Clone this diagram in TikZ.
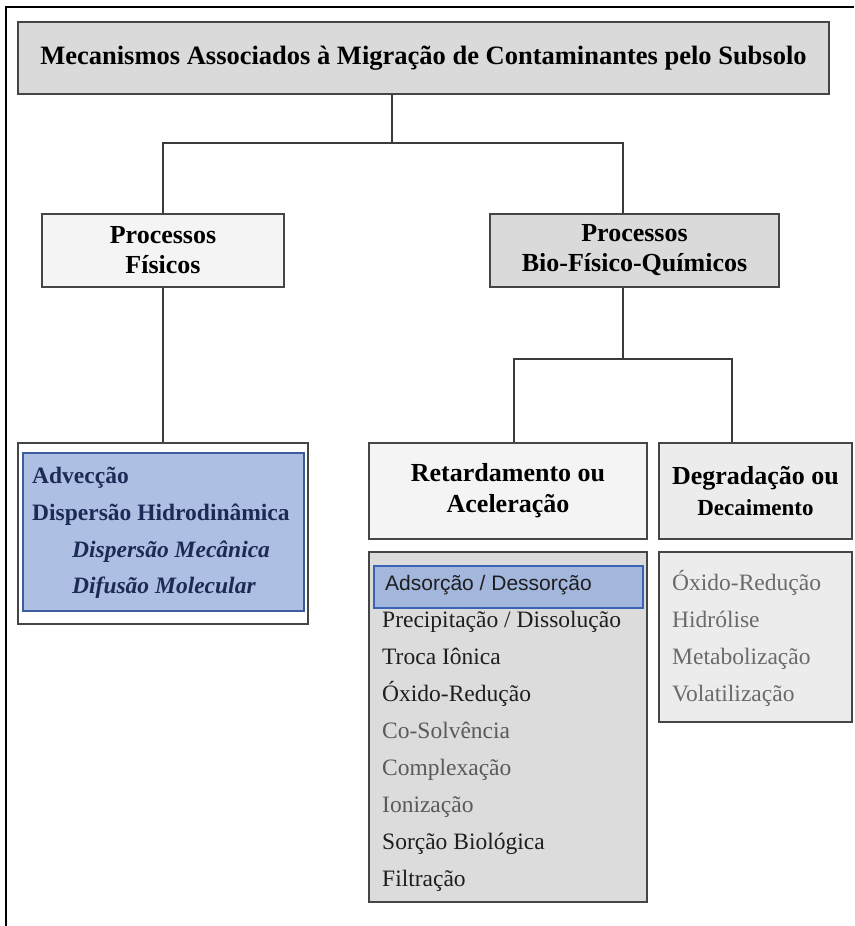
\documentclass[tikz,border=0pt]{standalone}
\usepackage{fontspec}
\setmainfont{Liberation Serif}
\newfontfamily\arialf{Liberation Sans}
\definecolor{boxline}{HTML}{454545}
\definecolor{connline}{HTML}{3A3A3A}
\definecolor{titlefill}{HTML}{DADADA}
\definecolor{lightfill}{HTML}{F4F4F4}
\definecolor{midfill}{HTML}{DCDCDC}
\definecolor{palefill}{HTML}{ECECEC}
\definecolor{bluefill}{HTML}{ADBFE3}
\definecolor{blueline}{HTML}{3D5C9E}
\definecolor{hlfill}{HTML}{A3B6DC}
\definecolor{hlline}{HTML}{3A62B5}
\definecolor{navytext}{HTML}{1C2A55}
\definecolor{darktext}{HTML}{1E1E1E}
\definecolor{graytext}{HTML}{5A5A5A}
\definecolor{lgraytext}{HTML}{6A6A6A}
\begin{document}
\begin{tikzpicture}[x=1pt,y=-1pt,
  box/.style={draw=boxline, line width=1.3pt, inner sep=0pt, align=center, text=black},
  conn/.style={draw=connline, line width=1.4pt},
  head/.style={font=\bfseries\fontsize{26}{30}\selectfont},
  item/.style={anchor=base west, inner sep=0pt, font=\fontsize{23.5}{28}\selectfont},
  bitem/.style={anchor=base west, inner sep=0pt, text=navytext, font=\bfseries\fontsize{23.5}{28}\selectfont},
  biitem/.style={anchor=base west, inner sep=0pt, text=navytext, font=\bfseries\itshape\fontsize{23.5}{28}\selectfont}]
\useasboundingbox (0,0) rectangle (854,926);
% outer frame
\draw[line width=2pt, black] (6,926) -- (6,7) -- (854,7);
% title
\node[box, fill=titlefill, minimum width=811pt, minimum height=72pt, font=\bfseries\fontsize{26.5}{30}\selectfont] (title) at (423.5,58) {Mecanismos Associados à Migração de Contaminantes pelo Subsolo};
% level 2
\node[box, head, fill=lightfill, minimum width=242pt, minimum height=73pt] (fis) at (163,250.5) {Processos\\Físicos};
\node[box, head, fill=titlefill, minimum width=289pt, minimum height=73pt] (bio) at (634.5,250.5) {Processos\\Bio-Físico-Químicos};
% level 3
\node[box, head, fill=lightfill, minimum width=278pt, minimum height=96pt, font=\bfseries\fontsize{26}{31}\selectfont] (ret) at (508,491) {Retardamento ou\\Aceleração};
\node[box, fill=palefill, minimum width=193pt, minimum height=96pt, font=\bfseries\fontsize{26}{31}\selectfont] (deg) at (755.5,491) {Degradação ou\\{\fontsize{23}{28}\selectfont Decaimento}};
% left list
\node[box, draw=boxline, fill=white, minimum width=290pt, minimum height=181pt] (lo) at (163,533.5) {};
\node[draw=blueline, line width=1.8pt, fill=bluefill, inner sep=0pt, minimum width=281pt, minimum height=158pt] (li) at (163.5,532) {};
\node[bitem] (a1) at (32,483) {Advecção};
\node[bitem] (a2) at (32,520) {Dispersão Hidrodinâmica};
\node[biitem] (a3) at (72,557) {Dispersão Mecânica};
\node[biitem] (a4) at (72,593) {Difusão Molecular};
% middle list
\node[box, fill=midfill, minimum width=278pt, minimum height=350pt] (ml) at (508,727) {};
\node[draw=hlline, line width=1.6pt, fill=hlfill, inner sep=0pt, minimum width=269pt, minimum height=42pt] (hl) at (508.5,587) {};
\node[item, text=darktext, font=\arialf\fontsize{21}{26}\selectfont] (m1) at (385,590) {Adsorção / Dessorção};
\node[item, text=darktext] (m2) at (382,627) {Precipitação / Dissolução};
\node[item, text=darktext] (m3) at (382,664) {Troca Iônica};
\node[item, text=darktext] (m4) at (382,701) {Óxido-Redução};
\node[item, text=graytext] (m5) at (382,738) {Co-Solvência};
\node[item, text=graytext] (m6) at (382,775) {Complexação};
\node[item, text=graytext] (m7) at (382,812) {Ionização};
\node[item, text=darktext] (m8) at (382,849) {Sorção Biológica};
\node[item, text=darktext] (m9) at (382,886) {Filtração};
% right list
\node[box, fill=palefill, minimum width=193pt, minimum height=170pt] (rl) at (755.5,637) {};
\node[item, text=lgraytext] (r1) at (672,590) {Óxido-Redução};
\node[item, text=lgraytext] (r2) at (672,627) {Hidrólise};
\node[item, text=lgraytext] (r3) at (672,664) {Metabolização};
\node[item, text=lgraytext] (r4) at (672,701) {Volatilização};
% connectors
\coordinate (t1) at (392,143);
\coordinate (t2) at (623,359);
\draw[conn] (title.south -| t1) -- (t1);
\draw[conn] (fis.north) |- (t1) -| ([xshift=-11.5pt]bio.north);
\draw[conn] (fis.south) -- (lo.north);
\draw[conn] ([xshift=-11.5pt]bio.south) -- (t2);
\draw[conn] ([xshift=6pt]ret.north) |- (t2) -| ([xshift=-23.5pt]deg.north);
\end{tikzpicture}
\end{document}
